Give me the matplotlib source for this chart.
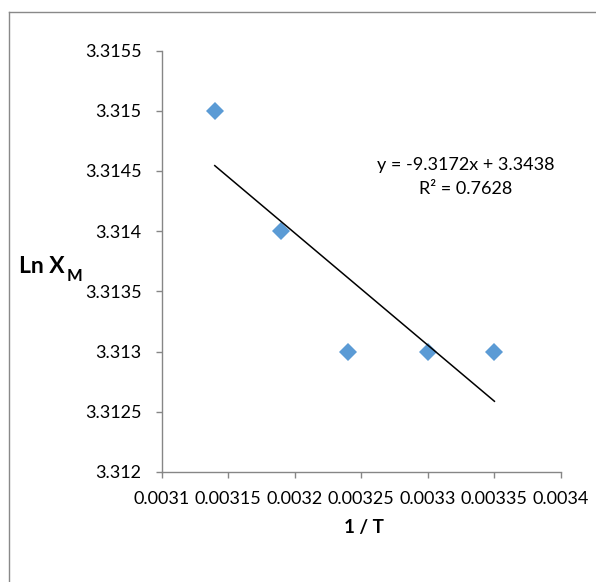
import matplotlib.pyplot as plt
from matplotlib.lines import Line2D

plt.rcParams['font.family'] = ['Lato', 'DejaVu Sans']

# 数据
inv_T = [0.00314, 0.00319, 0.00324, 0.00330, 0.00335]
ln_xm = [3.315, 3.314, 3.313, 3.313, 3.313]

slope = -9.3172
intercept = 3.3438
r2 = 0.7628

x_ticks = [0.0031, 0.00315, 0.0032, 0.00325, 0.0033, 0.00335, 0.0034]
x_labels = ['0.0031', '0.00315', '0.0032', '0.00325', '0.0033', '0.00335', '0.0034']
y_ticks = [3.312, 3.3125, 3.313, 3.3135, 3.314, 3.3145, 3.315, 3.3155]
y_labels = ['3.312', '3.3125', '3.313', '3.3135', '3.314', '3.3145', '3.315', '3.3155']

W, H = 596, 582
fig = plt.figure(figsize=(W / 100, H / 100), dpi=100)
ax = fig.add_axes([161.5 / W, 1 - 472 / H, (561 - 161.5) / W, (472 - 50.5) / H])

# 散点
ax.plot(inv_T, ln_xm, linestyle='none', marker='D', markersize=9.5,
        color='#5B9BD5', markeredgewidth=0)

# 线性趋势线
x_fit = [min(inv_T), max(inv_T)]
y_fit = [slope * x + intercept for x in x_fit]
ax.plot(x_fit, y_fit, color='black', linewidth=1.1)

fig.text(466 / W, 1 - 165 / H, f'y = {slope}x + {intercept}', ha='center', va='center', fontsize=13)
fig.text(466 / W, 1 - 189 / H, f'R² = {r2}', ha='center', va='center', fontsize=13)

ax.set_xlim(0.0031, 0.0034)
ax.set_ylim(3.312, 3.3155)
ax.set_xticks(x_ticks)
ax.set_xticklabels(x_labels)
ax.set_yticks(y_ticks)
ax.set_yticklabels(y_labels)
ax.tick_params(direction='out', length=4.5, width=1, color='#868686', labelsize=13)
ax.tick_params(axis='y', pad=10)
ax.tick_params(axis='x', pad=9)

for side in ['top', 'right']:
    ax.spines[side].set_visible(False)
for side in ['left', 'bottom']:
    ax.spines[side].set_color('#868686')
    ax.spines[side].set_linewidth(1)

ax.grid(False)

# 轴标题
fig.text(364 / W, 1 - 528 / H, '1 / T', ha='center', va='center', fontsize=13.5, fontweight='bold')
fig.text(19 / W, 1 - 273 / H, 'Ln X', ha='left', va='baseline', fontsize=16.5, fontweight='bold')
fig.text(67 / W, 1 - 281 / H, 'M', ha='left', va='baseline', fontsize=12, fontweight='bold')

# 外框
fig.add_artist(Line2D([9 / W, 1], [1 - 12 / H, 1 - 12 / H], transform=fig.transFigure,
                      color='#898989', linewidth=1))
fig.add_artist(Line2D([9 / W, 9 / W], [0, 1 - 12 / H], transform=fig.transFigure,
                      color='#898989', linewidth=1))

plt.savefig('out.png', dpi=100)
plt.close()
